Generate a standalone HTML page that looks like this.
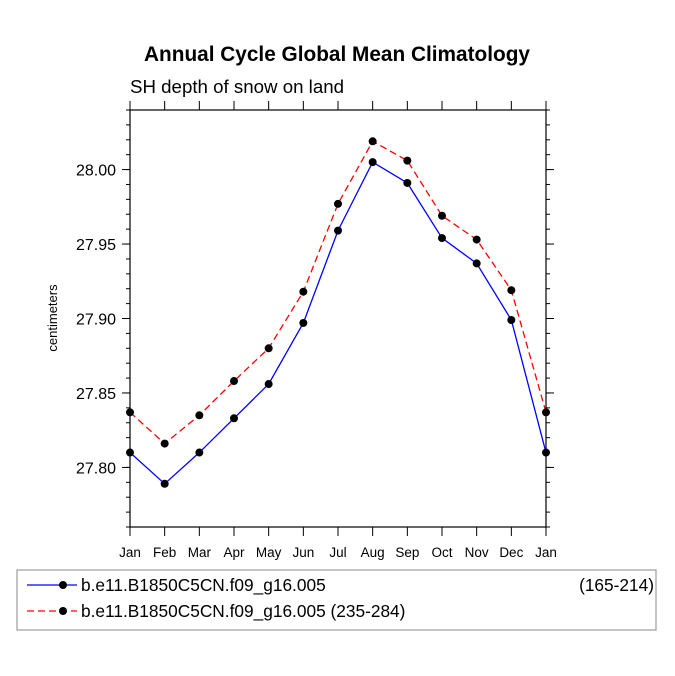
<!DOCTYPE html>
<html><head><meta charset="utf-8"><style>
body{margin:0;background:#fff;}
svg{display:block;font-family:"Liberation Sans",Arial,sans-serif;}
</style></head><body>
<svg id="c" width="675" height="676">
<text x="337" y="61" text-anchor="middle" font-size="20.8" font-weight="bold">Annual Cycle Global Mean Climatology</text>
<text x="130" y="93" font-size="18.7">SH depth of snow on land</text>
<text transform="translate(57,318) rotate(-90)" text-anchor="middle" font-size="13">centimeters</text>
<g id="axes"></g>
<g id="series"></g>
<rect x="17" y="570" width="639" height="60" fill="none" stroke="#888"/>
<g>
<line x1="27" y1="585" x2="77" y2="585" stroke="#00f" stroke-width="1.3"/><circle cx="63" cy="585" r="4" fill="#000"/>
<text x="81" y="591" font-size="17.3">b.e11.B1850C5CN.f09_g16.005</text>
<text x="654" y="591" font-size="17.3" text-anchor="end">(165-214)</text></g>
<g>
<line x1="27" y1="611" x2="77" y2="611" stroke="#f00" stroke-width="1.3" stroke-dasharray="7,4"/><circle cx="63" cy="611" r="4" fill="#000"/>
<text x="81" y="617" font-size="17.3">b.e11.B1850C5CN.f09_g16.005 (235-284)</text></g>
</svg>
<script>
const months=["Jan","Feb","Mar","Apr","May","Jun","Jul","Aug","Sep","Oct","Nov","Dec","Jan"];
const blueValues=[27.810,27.789,27.810,27.833,27.856,27.897,27.959,28.005,27.991,27.954,27.937,27.899,27.810];
const redValues=[27.837,27.816,27.835,27.858,27.880,27.918,27.977,28.019,28.006,27.969,27.953,27.919,27.837];
const yTicks=[27.80,27.85,27.90,27.95,28.00];
const yMin=27.760,yMax=28.040;
const L=130,R=546,T=110,B=527;
const NS="http://www.w3.org/2000/svg";
function X(i){return L+i*(R-L)/(months.length-1);}
function Y(v){return B-(v-yMin)/(yMax-yMin)*(B-T);}
function mk(tag,attrs,parent){const e=document.createElementNS(NS,tag);for(const k in attrs)e.setAttribute(k,attrs[k]);parent.appendChild(e);return e;}
const ax=document.getElementById('axes');
const fr=mk('rect',{x:L,y:T,width:R-L,height:B-T,fill:'none',stroke:'#000','stroke-width':1.2},ax);


months.forEach((m,i)=>{
 const x=X(i);
 mk('line',{x1:x,y1:B,x2:x,y2:B+9,stroke:'#000'},ax);
 mk('line',{x1:x,y1:T,x2:x,y2:T-9,stroke:'#000'},ax);
 const t=mk('text',{x:x,y:B+30,'text-anchor':'middle','font-size':13.5},ax);
 t.textContent=m;
 
 
});
for(let v=27.76;v<=28.0401;v+=0.01){
 const y=Y(v);
 mk('line',{x1:L,y1:y,x2:L-4,y2:y,stroke:'#000'},ax);
 mk('line',{x1:R,y1:y,x2:R+4,y2:y,stroke:'#000'},ax);
}
yTicks.forEach(v=>{
 const y=Y(v);
 mk('line',{x1:L,y1:y,x2:L-8,y2:y,stroke:'#000'},ax);
 mk('line',{x1:R,y1:y,x2:R+8,y2:y,stroke:'#000'},ax);
 const t=mk('text',{x:L-14,y:y+6,'text-anchor':'end','font-size':16},ax);
 t.textContent=v.toFixed(2);
 
 
});
const sg=document.getElementById('series');
function draw(vals,color,dash,name){
 const p=mk('polyline',{points:vals.map((v,i)=>X(i)+','+Y(v)).join(' '),fill:'none',stroke:color,'stroke-width':1.3,'stroke-dasharray':dash},sg);
 
 
 vals.forEach((v,i)=>{
  const c=mk('circle',{cx:X(i),cy:Y(v),r:4,fill:'#000'},sg);
  
  
 });
}
draw(blueValues,'#00f','none','series-165-214');
draw(redValues,'#f00','7,4','series-235-284');
</script>
</body></html>
